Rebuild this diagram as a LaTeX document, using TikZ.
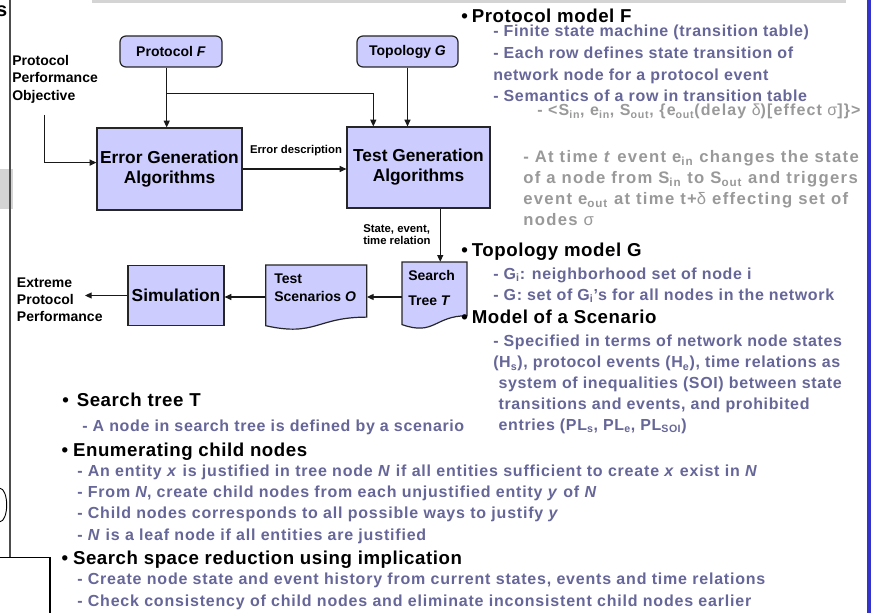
\documentclass[tikz,border=0pt]{standalone}
\usepackage{fontspec}
\setmainfont{Liberation Sans}
\usetikzlibrary{arrows.meta}

\definecolor{boxfill}{RGB}{204,204,255}
\definecolor{slate}{RGB}{102,102,153}
\definecolor{lightnote}{RGB}{153,153,153}
\definecolor{rulegray}{RGB}{77,77,77}
\definecolor{bandgray}{RGB}{212,212,212}
\definecolor{edgeblue}{RGB}{51,51,204}

% document outline: x, y, width, height (wavy bottom)
\newcommand{\docshape}[4]{%
  \draw[docbox] (#1,#2) -- ({#1+#3},#2) -- ({#1+#3},{#2+0.802*#4})
    .. controls ({#1+0.5*#3},{#2+0.802*#4}) and ({#1+0.5*#3},{#2+1.107*#4}) .. (#1,{#2+0.934*#4}) -- cycle;}

\begin{document}
\begin{tikzpicture}[x=0.75pt,y=0.75pt,yscale=-1,xscale=1,
  procbox/.style={draw=black!85,fill=boxfill,line width=0.9pt,inner sep=0pt,align=center,font=\bfseries\fontsize{13}{15}\selectfont},
  inbox/.style={procbox,rounded corners=4.5pt,font=\bfseries\fontsize{10.5}{12}\selectfont},
  docbox/.style={draw=black!85,fill=boxfill,line width=0.9pt},
  docarea/.style={inner sep=0pt},
  lbl/.style={inner sep=0pt,anchor=base west,align=left,font=\bfseries\fontsize{10.5}{13}\selectfont},
  tiny/.style={lbl,font=\bfseries\fontsize{8.5}{9.3}\selectfont},
  conn/.style={draw=black!90,line width=0.8pt,-{Triangle[length=5pt,width=4.5pt]}},
  head/.style={inner sep=0pt,anchor=base west,font=\bfseries\fontsize{14}{18}\selectfont\addfontfeature{LetterSpace=3}},
  sub/.style={inner sep=0pt,anchor=base west,align=left,text=slate,font=\bfseries\fontsize{12}{15.8}\selectfont\addfontfeature{LetterSpace=4}},
  note/.style={sub,text=lightnote,font=\bfseries\fontsize{12.5}{15.8}\selectfont\addfontfeature{LetterSpace=8}}]
\useasboundingbox (0,0) rectangle (882,613);
\fill[white] (0,0) rectangle (882,613);

% slide leftovers round the picture
\fill[bandgray] (92,0) rectangle (846,3);
\fill[bandgray] (0,169) rectangle (12.7,209);
\draw[rulegray,line width=1.3pt] (10.3,0) -- (10.3,557.7);
\draw[black,line width=0.8pt] (0,557.7) -- (50,557.7) -- (50,613);
\draw[black,line width=0.7pt] (0,488.3) arc[start angle=-90,end angle=90,x radius=6.7,y radius=16.7];
\draw[edgeblue,line width=3pt] (869,0) -- (869,613);
\node[head,anchor=base east,font=\bfseries\fontsize{15}{18}\selectfont] (cuts) at (7.5,16.7) {s};

% flow diagram
\node[inbox,minimum width=76.5pt,minimum height=23.25pt] (protF) at (171,51.5) {Protocol \textit{F}};
\node[inbox,minimum width=75.75pt,minimum height=23.25pt] (topoG) at (407.5,51.5) {Topology \textit{G}};
\node[procbox,minimum width=108.75pt,minimum height=61.5pt] (errgen) at (169.5,169) {Error Generation\\Algorithms};
\node[procbox,minimum width=107.25pt,minimum height=60.75pt] (testgen) at (418.5,167.5) {Test Generation\\Algorithms};
\node[procbox,minimum width=72pt,minimum height=45pt] (simul) at (176,295.5) {Simulation};
\docshape{402}{262}{65}{67}
\node[docarea,minimum width=48.75pt,minimum height=52.5pt] (stree) at (434.5,297) {};
\docshape{265.7}{265}{101}{65}
\node[docarea,minimum width=75.75pt,minimum height=48pt] (testsc) at (316.2,297) {};

% multi-line texts sit on the baseline of their last line
\node[lbl,font=\bfseries\fontsize{10.5}{18}\selectfont] (streetxt) at (408,305) {Search\\Tree \textit{T}};
\node[lbl,font=\bfseries\fontsize{10.5}{13.8}\selectfont] (testsctxt) at (274,301.5) {Test\\Scenarios \textit{O}};
\node[lbl] (objtxt) at (12,100.3) {Protocol\\Performance\\Objective};
\node[lbl] (exttxt) at (16.7,321.7) {Extreme\\Protocol\\Performance};
\node[tiny,anchor=base] (errlbl) at (296,154) {Error description};
\node[tiny] (stlbl) at (363,244.7) {State, event,\\time relation};

\coordinate (objtop) at (44.3,115);
\coordinate (brF) at (166.7,93.3);
\coordinate (brT) at (373.3,93.3);
\coordinate (extout) at (85,297);

\draw[conn] (objtop) |- (errgen.175);
\draw[conn] (brF |- protF.south) -- (brF |- errgen.north);
\draw[conn] (brF) -| (brT |- testgen.north);
\draw[conn] (topoG.south) -- (topoG.south |- testgen.north);
\draw[conn] (errgen.east) -- (errgen.east -| testgen.west);
\draw[conn] ([xshift=4.3pt]stree.north |- testgen.south) -- ([xshift=4.3pt]stree.north);
\draw[conn] (stree.west) -- (stree.west -| testsc.east);
\draw[conn] (testsc.west) -- (testsc.west -| simul.east);
\draw[conn] (simul.west) -- (simul.west -| extout);

% models on the right
\node[head] (pfhead) at (461,22.7) {\textbullet\hspace{3pt}Protocol model F};
\node[sub,font=\bfseries\fontsize{12}{16.25}\selectfont\addfontfeature{LetterSpace=4}] (pfsub) at (493,101.7) {- Finite state machine (transition table)\\- Each row defines state transition of\\network node for a protocol event\\- Semantics of a row in transition table};
\node[note,font=\bfseries\fontsize{12}{15.8}\selectfont\addfontfeature{LetterSpace=7}] (pfrow) at (537,116) {- <S\textsubscript{in}, e\textsubscript{in}, S\textsubscript{out}, \{e\textsubscript{out}(delay {\mdseries δ})[effect {\mdseries σ}]\}>};
\node[note] (pfmean) at (523,226) {- At time \textit{t} event e\textsubscript{in} changes the state\\of a node from S\textsubscript{in} to S\textsubscript{out} and triggers\\event e\textsubscript{out} at time t+{\mdseries δ} effecting set of\\nodes {\mdseries σ}};

\node[head] (tghead) at (461,256.7) {\textbullet\hspace{3pt}Topology model G};
\node[sub,font=\bfseries\fontsize{12}{15.5}\selectfont\addfontfeature{LetterSpace=4}] (tgsub) at (493,300) {- G\textsubscript{i}: neighborhood set of node i\\- G: set of G\textsubscript{i}’s for all nodes in the network};
\node[head] (schead) at (461,323) {\textbullet\hspace{3pt}Model of a Scenario};
\node[sub,font=\bfseries\fontsize{12}{15.6}\selectfont\addfontfeature{LetterSpace=4}] (scsub) at (493,430) {- Specified in terms of network node states\\(H\textsubscript{s}), protocol events (H\textsubscript{e}), time relations as\\\hspace*{4pt}system of inequalities (SOI) between state\\\hspace*{4pt}transitions and events, and prohibited\\\hspace*{4pt}entries (PL\textsubscript{s}, PL\textsubscript{e}, PL\textsubscript{SOI})};

% search tree notes below
\node[head] (sthead) at (62,406) {\textbullet\hspace{6pt}Search tree T};
\node[sub] (stsub) at (82,431.7) {- A node in search tree is defined by a scenario};
\node[head] (enhead) at (61.3,456) {\textbullet\hspace{3.7pt}Enumerating child nodes};
\node[sub,font=\bfseries\fontsize{12}{15.8}\selectfont\addfontfeature{LetterSpace=5}] (ensub) at (77,540) {- An entity \textit{x} is justified in tree node \textit{N} if all entities sufficient to create \textit{x} exist in \textit{N}\\- From \textit{N}, create child nodes from each unjustified entity \textit{y} of \textit{N}\\- Child nodes corresponds to all possible ways to justify \textit{y}\\- \textit{N} is a leaf node if all entities are justified};
\node[head] (srhead) at (61.3,564) {\textbullet\hspace{3.7pt}Search space reduction using implication};
\node[sub,font=\bfseries\fontsize{12}{16.3}\selectfont\addfontfeature{LetterSpace=5}] (srsub) at (77,606.7) {- Create node state and event history from current states, events and time relations\\- Check consistency of child nodes and eliminate inconsistent child nodes earlier};
\end{tikzpicture}
\end{document}
